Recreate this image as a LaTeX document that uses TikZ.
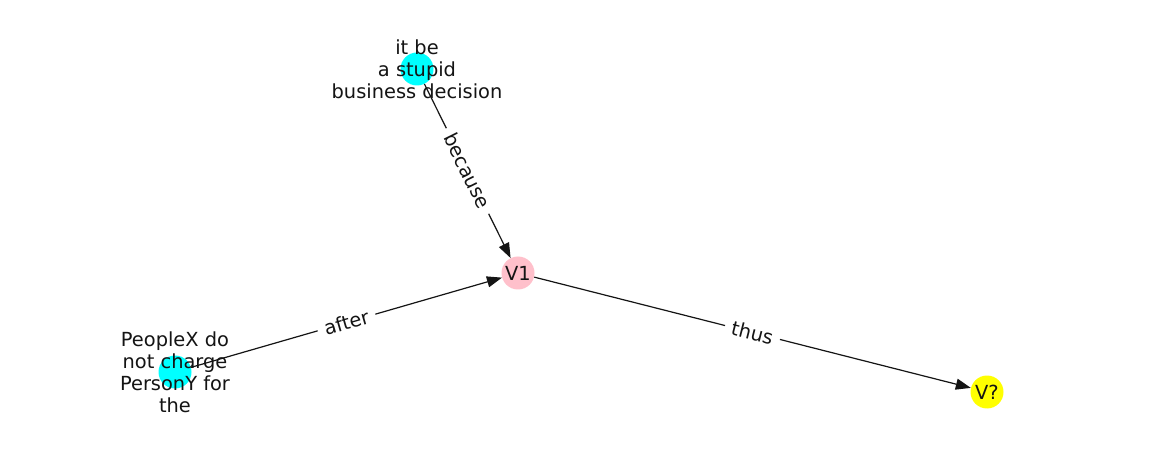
\documentclass[tikz,border=0pt]{standalone}
\usepackage{fontspec}
\setmainfont{DejaVu Sans}
\usetikzlibrary{arrows.meta}
\definecolor{cyanc}{RGB}{0,255,255}
\definecolor{pinkc}{RGB}{255,192,203}
\definecolor{yellowc}{RGB}{255,255,0}
\definecolor{txt}{RGB}{20,20,20}
\begin{document}
\begin{tikzpicture}[x=1pt,y=-1pt,
  dot/.style={circle, minimum size=33pt, inner sep=0pt, draw=none},
  lab/.style={font=\fontsize{19.4}{22}\selectfont, align=center, text=txt, inner sep=0pt},
  conn/.style={draw=txt, line width=1.2pt, -{Triangle[length=15pt,width=11pt]}},
  elab/.style={sloped, fill=white, inner xsep=7pt, inner ysep=3pt, font=\fontsize{19.4}{22}\selectfont, text=txt}]
\useasboundingbox[fill=white] (0,0) rectangle (1162,462);
\node[dot, fill=cyanc] (a) at (417,69) {};
\node[dot, fill=pinkc] (v1) at (518,273) {};
\node[dot, fill=cyanc] (b) at (175,372) {};
\node[dot, fill=yellowc] (vq) at (987,392) {};
\draw[conn] (a) -- node[elab]{because} (v1);
\draw[conn] (b) -- node[elab]{after} (v1);
\draw[conn] (v1) -- node[elab]{thus} (vq);
\node[lab] (la) at (a.center) {it be\\a stupid\\business decision};
\node[lab] (lv1) at (v1.center) {V1};
\node[lab] (lb) at (b.center) {PeopleX do\\not charge\\PersonY for\\the};
\node[lab] (lvq) at (vq.center) {V?};
\end{tikzpicture}
\end{document}
